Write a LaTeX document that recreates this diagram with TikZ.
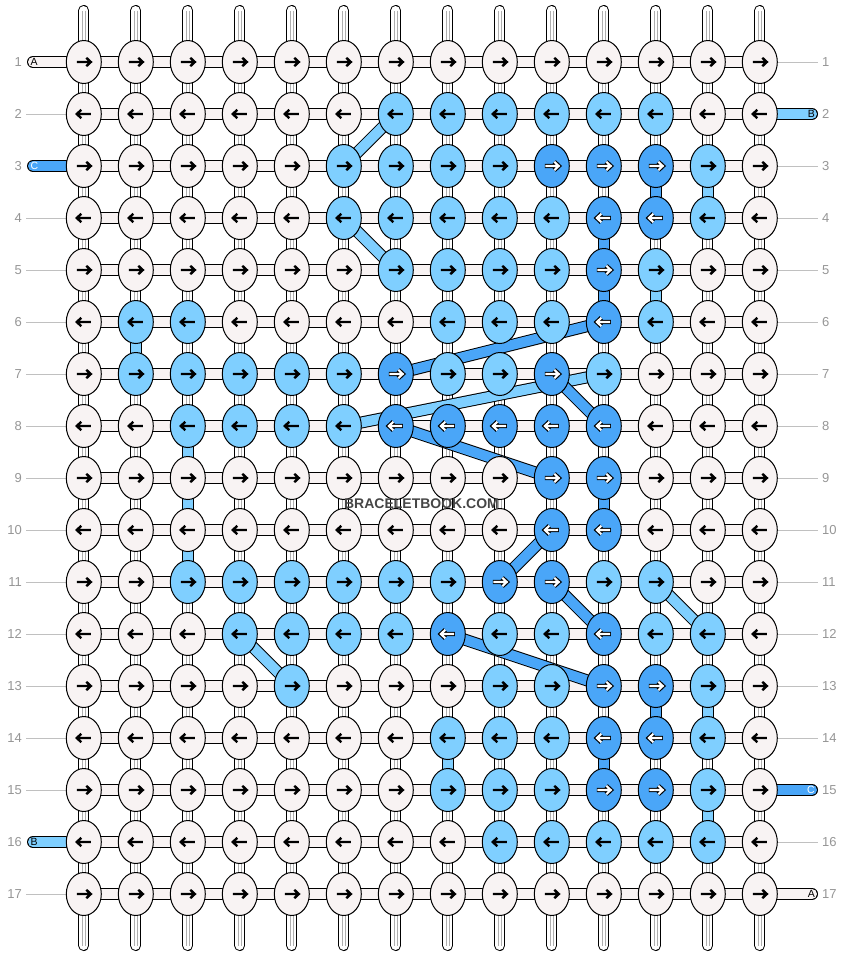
\documentclass[tikz,border=0pt]{standalone}
\usepackage{fontspec}
\setmainfont{Liberation Sans}
\usetikzlibrary{shapes.geometric}
\definecolor{colA}{RGB}{248,243,243}
\definecolor{colB}{RGB}{127,207,255}
\definecolor{colC}{RGB}{74,166,248}
\definecolor{numgray}{RGB}{150,150,150}
\definecolor{linegray}{RGB}{192,192,192}
\definecolor{stripegray}{RGB}{175,175,175}
\definecolor{wmgray}{RGB}{70,70,70}
\pgfdeclarelayer{bg}
\pgfdeclarelayer{strings}
\pgfdeclarelayer{links}
\pgfsetlayers{bg,strings,links,main}
\begin{document}
\begin{tikzpicture}[x=1pt,y=-1pt,
  knot/.style={ellipse, draw=black, line width=1, minimum width=35, minimum height=43, inner sep=0},
  arrowblack/.style={line width=2.4, black, line join=miter, line cap=butt},
  arrowout/.style={line width=4.4, black, line join=miter, line cap=butt},
  arrowin/.style={line width=2.1, white, line join=miter, line cap=butt},
  numlabel/.style={text=numgray, font=\fontsize{13}{13}\selectfont, inner sep=0},
  tabletter/.style={font=\fontsize{10.5}{10.5}\selectfont, inner sep=0},
  guide/.style={linegray, line width=1},
  bandout/.style={black, line width=12, line cap=butt},
  bandin/.style={line width=10, line cap=butt},
  warpout/.style={black, line width=11, line cap=round, line join=round},
  warpin/.style={white, line width=9, line cap=round, line join=round},
  warpstripe/.style={stripegray, line width=3.6},
  warpcore/.style={white, line width=1.6},
  tabout/.style={black, line width=12, line cap=round},
  tabin/.style={line width=10, line cap=round}
]
\begin{pgfonlayer}{bg}
\fill[white] (0,0) rectangle (844,956);
\end{pgfonlayer}
\useasboundingbox (0,0) rectangle (844,956);

% knots
\foreach \row [count=\r] in {
 {A,A,A,A,A,A,A,A,A,A,A,A,A,A},
 {A,A,A,A,A,A,B,B,B,B,B,B,A,A},
 {A,A,A,A,A,B,B,B,B,C,C,C,B,A},
 {A,A,A,A,A,B,B,B,B,B,C,C,B,A},
 {A,A,A,A,A,A,B,B,B,B,C,B,A,A},
 {A,B,B,A,A,A,A,B,B,B,C,B,A,A},
 {A,B,B,B,B,B,C,B,B,C,B,A,A,A},
 {A,A,B,B,B,B,C,C,C,C,C,A,A,A},
 {A,A,A,A,A,A,A,A,A,C,C,A,A,A},
 {A,A,A,A,A,A,A,A,A,C,C,A,A,A},
 {A,A,B,B,B,B,B,B,C,C,B,B,A,A},
 {A,A,A,B,B,B,B,C,B,B,C,B,B,A},
 {A,A,A,A,B,A,A,A,B,B,C,C,B,A},
 {A,A,A,A,A,A,A,B,B,B,C,C,B,A},
 {A,A,A,A,A,A,A,B,B,B,C,C,B,A},
 {A,A,A,A,A,A,A,A,B,B,B,B,B,A},
 {A,A,A,A,A,A,A,A,A,A,A,A,A,A}}{
  \foreach \k [count=\c] in \row {
    \node[knot, fill=col\k] (k-\r-\c) at ({83.8+52*(\c-1)},{62+52*(\r-1)}) {};
    \ifodd\r \def\d{1}\else\def\d{-1}\fi
    \if\k C
      \draw[arrowout, shift={(k-\r-\c.center)}, xscale=\d] (-7,0) -- (6,0) (2.5,-4.2) -- (7,0) -- (2.5,4.2);
      \draw[arrowin, shift={(k-\r-\c.center)}, xscale=\d] (-6.4,0) -- (6,0) (2.5,-4.2) -- (7,0) -- (2.5,4.2);
    \else
      \draw[arrowblack, shift={(k-\r-\c.center)}, xscale=\d] (-7,0) -- (6,0) (2.5,-4.2) -- (7,0) -- (2.5,4.2);
    \fi
  }
}

% row numbers
\foreach \r in {1,...,17}{
  \node[numlabel, anchor=east] (nl-\r) at (22,{62+52*(\r-1)}) {\r};
  \node[numlabel, anchor=west] (nr-\r) at (822,{62+52*(\r-1)}) {\r};
}

% watermark
\node[font=\bfseries\fontsize{14}{14}\selectfont, text=wmgray, inner sep=0] (wm) at (421.5,503.5) {BRACELETBOOK.COM};

\begin{pgfonlayer}{strings}
  % warp strings
  \foreach \c in {1,...,14}{
    \coordinate (t-\c) at ({83.8+52*(\c-1)},10.5);
    \coordinate (b-\c) at ({83.8+52*(\c-1)},945.5);
    \draw[warpout] (t-\c) -- (k-1-\c.center) -- (k-17-\c.center) -- (b-\c);
    \draw[warpin] (t-\c) -- (k-1-\c.center) -- (k-17-\c.center) -- (b-\c);
    \draw[warpstripe] (t-\c) -- (k-1-\c.center) -- (k-17-\c.center) -- (b-\c);
    \draw[warpcore] (t-\c) -- (k-1-\c.center) -- (k-17-\c.center) -- (b-\c);
  }
  % weft rows
  \foreach \r in {1,...,17}{
    \draw[bandout] (k-\r-1.center) -- (k-\r-14.center);
    \draw[bandin, colA] (k-\r-1.center) -- (k-\r-14.center);
  }
  % guide lines left
  \foreach \r in {2,4,5,6,7,8,9,10,11,12,13,14,15,17}{
    \coordinate (L-\r) at (26,{62+52*(\r-1)});
    \draw[guide] (L-\r) -- (k-\r-1.center);
  }
  % guide lines right
  \foreach \r in {1,3,4,5,6,7,8,9,10,11,12,13,14,16}{
    \coordinate (R-\r) at (818,{62+52*(\r-1)});
    \draw[guide] (k-\r-14.center) -- (R-\r);
  }
  % tabs left
  \foreach \r/\cl in {1/A,3/C,16/B}{
    \coordinate (L-\r) at (33,{62+52*(\r-1)});
    \draw[tabout] (L-\r) -- (k-\r-1.center);
    \draw[tabin, col\cl] (L-\r) -- (k-\r-1.center);
  }
  % tabs right
  \foreach \r/\cl in {2/B,15/C,17/A}{
    \coordinate (R-\r) at (812,{62+52*(\r-1)});
    \draw[tabout] (k-\r-14.center) -- (R-\r);
    \draw[tabin, col\cl] (k-\r-14.center) -- (R-\r);
  }
\end{pgfonlayer}

% tab letters
\node[tabletter, anchor=west, text=black] (tl-1) at (30.5,62) {A};
\node[tabletter, anchor=west, text=white] (tl-3) at (30.5,166) {C};
\node[tabletter, anchor=west, text=black] (tl-16) at (30.5,842) {B};
\node[tabletter, anchor=east, text=black] (tr-2) at (815,114) {B};
\node[tabletter, anchor=east, text=white] (tr-15) at (815,790) {C};
\node[tabletter, anchor=east, text=black] (tr-17) at (815,894) {A};

\begin{pgfonlayer}{links}
  \foreach \ra/\ca/\rb/\cb/\cl in {
    2/7/3/6/B, 4/6/5/7/B, 6/2/7/2/B, 8/3/11/3/B, 8/6/7/11/B, 11/12/12/13/B,
    12/4/13/5/B, 3/13/4/13/B, 5/12/6/12/B, 13/13/14/13/B, 15/13/16/13/B, 14/8/15/8/B,
    3/12/4/12/C, 4/11/6/11/C, 6/11/7/7/C, 7/10/8/11/C, 8/7/9/10/C, 9/11/10/11/C,
    10/10/11/9/C, 11/10/12/11/C, 12/8/13/11/C, 13/12/14/12/C, 14/11/15/11/C}{
    \draw[bandout] (k-\ra-\ca.center) -- (k-\rb-\cb.center);
    \draw[bandin, col\cl] (k-\ra-\ca.center) -- (k-\rb-\cb.center);
  }
\end{pgfonlayer}
\end{tikzpicture}
\end{document}
